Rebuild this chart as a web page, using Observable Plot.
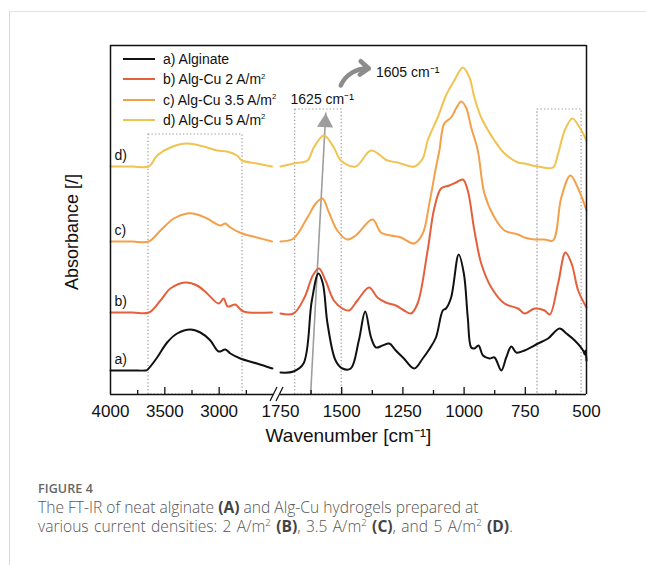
<!DOCTYPE html>
<html><head><meta charset="utf-8">
<script src="https://cdn.jsdelivr.net/npm/d3@7"></script>
<script src="https://cdn.jsdelivr.net/npm/@observablehq/plot@0.6"></script>
<style>
body{margin:0;background:#fff;width:646px;height:565px;overflow:hidden;position:relative;font-family:"Liberation Sans",Arial,sans-serif}
#border{position:absolute;left:9px;top:11px;right:-5px;bottom:-5px;border-top:1.5px solid #e3e3e3;border-left:1.5px solid #d8d8d8}
#chart{position:absolute;left:0;top:0}
#legend{position:absolute;left:123px;top:49px;font-size:14px;color:#111;line-height:20.3px}
.row{height:20.3px;display:flex;align-items:center;white-space:nowrap}
.sw{width:32px;height:2px;margin-right:8px}
.row sup{font-size:0.55em;vertical-align:baseline;position:relative;top:-0.75em;line-height:1}
#caption{position:absolute;left:38px;top:481px;font-family:"Open Sans",sans-serif;color:#555}
#caption .fig{font-size:12.5px;font-weight:600;color:#666;line-height:16px;letter-spacing:0.1px}
#caption .txt{font-size:15.6px;font-weight:300;line-height:18.5px;height:18.5px;white-space:nowrap}
#caption .l1{margin-top:1px}
#caption .l2{word-spacing:1.3px}
#caption b{font-weight:700;color:#444}
#caption sup{font-size:0.62em;vertical-align:baseline;position:relative;top:-0.55em;line-height:1}
</style></head>
<body>
<div id="border"></div>
<div id="chart"></div>
<div id="legend"></div>
<div id="caption">
  <div class="fig">FIGURE 4</div>
  <div class="txt l1">The FT-IR of neat alginate <b>(A)</b> and Alg-Cu hydrogels prepared at</div>
  <div class="txt l2">various current densities: 2 A/m<sup>2</sup> <b>(B)</b>, 3.5 A/m<sup>2</sup> <b>(C)</b>, and 5 A/m<sup>2</sup> <b>(D)</b>.</div>
</div>
<script>
// ---- data (wavenumber cm^-1, offset absorbance) ----
const seriesNames = ["a) Alginate", "b) Alg-Cu 2 A/m²", "c) Alg-Cu 3.5 A/m²", "d) Alg-Cu 5 A/m²"];
const seriesTags = ["a)", "b)", "c)", "d)"];
const seriesColors = ["#111111", "#e4603c", "#f4a04a", "#f0c352"];

const alginateHigh = [[4000,0.24],[3800,0.24],[3680,0.24],[3663,0.245],[3571,0.37],[3479,0.52],[3387,0.61],[3265,0.65],[3173,0.62],[3081,0.54],[3005,0.43],[2943,0.45],[2897,0.41],[2805,0.36],[2652,0.31],[2510,0.26]];
const alginateLow = [[1750,0.22],[1697,0.23],[1656,0.31],[1622,0.94],[1595,1.21],[1577,1.11],[1558,0.71],[1525,0.34],[1497,0.26],[1463,0.26],[1430,0.54],[1404,0.83],[1380,0.57],[1360,0.47],[1333,0.49],[1306,0.51],[1279,0.44],[1246,0.36],[1204,0.26],[1169,0.36],[1143,0.45],[1115,0.57],[1087,0.84],[1074,0.86],[1053,0.97],[1022,1.40],[1001,1.21],[985,0.77],[971,0.47],[958,0.46],[941,0.49],[923,0.39],[896,0.36],[876,0.37],[848,0.24],[828,0.37],[807,0.48],[787,0.42],[753,0.44],[698,0.51],[657,0.56],[610,0.66],[582,0.61],[548,0.54],[514,0.44],[507,0.40],[504,0.44],[500,0.34]];

const cu2High = [[4000,0.82],[3800,0.82],[3648,0.82],[3540,0.94],[3449,1.06],[3311,1.12],[3203,1.09],[3111,1.01],[3005,0.91],[2959,0.96],[2922,0.88],[2851,0.90],[2821,0.87],[2775,0.83],[2514,0.82]];
const cu2Low = [[1750,0.81],[1697,0.81],[1652,0.97],[1618,1.19],[1593,1.26],[1566,1.14],[1532,0.94],[1497,0.86],[1470,0.84],[1436,0.94],[1388,1.07],[1354,0.97],[1320,0.92],[1279,0.89],[1245,0.84],[1217,0.81],[1190,0.91],[1149,1.44],[1122,1.86],[1094,2.06],[1060,2.09],[1033,2.12],[1005,2.15],[985,2.04],[958,1.64],[930,1.31],[889,1.07],[835,0.91],[780,0.86],[753,0.81],[712,0.86],[671,0.84],[650,0.80],[616,1.11],[586,1.42],[561,1.31],[534,1.04],[500,0.87]];

const cu35High = [[4000,1.53],[3800,1.53],[3648,1.53],[3540,1.64],[3418,1.76],[3295,1.81],[3203,1.80],[3111,1.76],[2989,1.69],[2943,1.71],[2897,1.67],[2790,1.61],[2652,1.57],[2514,1.53]];
const cu35Low = [[1750,1.53],[1697,1.56],[1640,1.77],[1606,1.91],[1579,1.96],[1552,1.82],[1518,1.64],[1477,1.55],[1443,1.59],[1374,1.75],[1340,1.62],[1299,1.59],[1258,1.57],[1204,1.51],[1169,1.61],[1142,1.91],[1115,2.27],[1101,2.44],[1081,2.71],[1053,2.77],[1033,2.86],[1012,2.93],[992,2.87],[971,2.67],[944,2.44],[917,2.01],[876,1.77],[835,1.64],[780,1.60],[753,1.57],[712,1.55],[671,1.55],[637,1.54],[603,1.97],[566,2.19],[534,2.06],[500,1.84]];

const cu5High = [[4000,2.28],[3800,2.28],[3648,2.28],[3571,2.39],[3449,2.47],[3295,2.51],[3143,2.48],[3019,2.44],[2928,2.43],[2836,2.39],[2790,2.34],[2652,2.31],[2514,2.28]];
const cu5Low = [[1750,2.28],[1697,2.31],[1640,2.34],[1614,2.47],[1573,2.59],[1532,2.47],[1504,2.34],[1443,2.28],[1380,2.44],[1313,2.34],[1272,2.32],[1204,2.28],[1169,2.36],[1149,2.54],[1108,2.77],[1074,2.99],[1040,3.14],[1005,3.27],[978,3.17],[958,2.97],[930,2.77],[876,2.54],[835,2.41],[780,2.32],[753,2.31],[698,2.28],[637,2.27],[616,2.41],[589,2.64],[558,2.76],[528,2.67],[500,2.54]];

const majorTicks = [3500, 3000, 1500, 1250, 1000, 750];
const minorTicks = [3750, 3250, 2750, 1625, 1375, 1125, 875, 625];
const tickLabels = [4000, 3500, 3000, 1750, 1500, 1250, 1000, 750, 500];
const boxRegions = [[3650, 2785, 2.60], [1690, 1500, 2.85], [700, 520, 2.85]];
const shiftArrow = [[1627, 0, 1565, 2.82]];
const curvedArrow = [[1504, 3.09, 1389, 3.26]];
const peakNotes = [[1709, 2.95, "1625 cm⁻¹"], [1360, 3.22, "1605 cm⁻¹"]];

// ---- build tables ----
const segs = [[alginateHigh, alginateLow], [cu2High, cu2Low], [cu35High, cu35Low], [cu5High, cu5Low]];
const rows = [];
segs.forEach((pair, i) => pair.forEach((seg, j) => seg.forEach(([wn, a]) => rows.push({s: i, seg: j, wn, a}))));
const tagRows = seriesTags.map((t, i) => ({t, wn: 4000, a: segs[i][0][0][1]}));

const Y0 = 0, Y1 = 3.49;
const frameH = 394 - 45;
const font = "Liberation Sans, Arial, Helvetica, sans-serif";

const marks = [
  Plot.rect(boxRegions, {x1: d => d[0], x2: d => d[1], y1: Y0, y2: d => d[2], fill: "none", stroke: "#9a9a9a", strokeWidth: 1.2, strokeDasharray: "1.3,2.2"}),
  Plot.link(shiftArrow, {x1: d => d[0], y1: d => d[1], x2: d => d[2], y2: d => d[3], stroke: "#9d9d9d", strokeWidth: 1.6}),
  Plot.dot(shiftArrow, {x: d => d[2] + (d[0] - d[2]) * 0.035, y: d => d[3] - 0.1, symbol: "triangle", r: 6, fill: "#9d9d9d", stroke: "none", rotate: 3}),
  Plot.arrow(curvedArrow, {x1: d => d[0], y1: d => d[1], x2: d => d[2], y2: d => d[3], bend: 35, stroke: "#8c8c8c", strokeWidth: 4.5, headLength: 9, headAngle: 75}),
  ...segs.map((_, i) => Plot.line(rows.filter(r => r.s === i), {x: "wn", y: "a", z: "seg", stroke: seriesColors[i], strokeWidth: 2, curve: "catmull-rom"})),
  // frame
  Plot.ruleY([Y1], {x1: 4000, x2: 500, stroke: "#111", strokeWidth: 1.5}),
  Plot.ruleY([Y0], {x1: 4000, x2: 2500, stroke: "#111", strokeWidth: 1.5}),
  Plot.ruleY([Y0], {x1: 1750, x2: 500, stroke: "#111", strokeWidth: 1.5}),
  Plot.ruleX([4000, 500], {y1: Y0, y2: Y1, stroke: "#111", strokeWidth: 1.5}),
  Plot.tickX(majorTicks, {x: d => d, insetTop: frameH - 7, stroke: "#111", strokeWidth: 1.3}),
  Plot.tickX(minorTicks, {x: d => d, insetTop: frameH - 4, stroke: "#111", strokeWidth: 1.3}),
  Plot.axisX({ticks: tickLabels, tickSize: 0, tickPadding: 10, tickFormat: d3.format("d"), fontSize: 17, label: null, fill: "#111"}),
  Plot.text(["Wavenumber [cm⁻¹]"], {frameAnchor: "bottom", dy: 47, fontSize: 19, fill: "#111"}),
  Plot.text(["Absorbance [/]"], {frameAnchor: "left", textAnchor: "middle", dx: -38, dy: 12, rotate: -90, fontSize: 18, fill: "#111"}),
  Plot.text(tagRows, {x: "wn", y: "a", text: "t", textAnchor: "start", dx: 4, dy: -11, fontSize: 14, fill: "#111"}),
  Plot.text(peakNotes, {x: d => d[0], y: d => d[1], text: d => d[2], textAnchor: "start", fontSize: 14, fill: "#111"})
];

const chart = Plot.plot({
  width: 646, height: 460,
  marginLeft: 110, marginRight: 60, marginTop: 45, marginBottom: 66,
  x: {type: "linear", domain: [4000, 2500, 1750, 500], range: [110, 273, 280, 586], axis: null},
  y: {domain: [Y0, Y1], axis: null},
  style: {fontFamily: font, background: "transparent", overflow: "visible"},
  marks
});
document.getElementById("chart").appendChild(chart);

// axis-break slashes drawn at the gap between the two x segments
const xs = chart.scale("x");
const ys = chart.scale("y");
const svg = d3.select(chart);
const gx = (xs.apply(2500) + xs.apply(1750)) / 2;
const gy = ys.apply(Y0);
[-3, 3].forEach(o => svg.append("line").attr("x1", gx + o - 3.5).attr("y1", gy + 7).attr("x2", gx + o + 3.5).attr("y2", gy - 7).attr("stroke", "#111").attr("stroke-width", 1.2));

// legend
const leg = document.getElementById("legend");
seriesNames.forEach((n, i) => {
  const row = document.createElement("div");
  row.className = "row";
  const sw = document.createElement("span");
  sw.className = "sw"; sw.style.background = seriesColors[i];
  const tx = document.createElement("span");
  tx.innerHTML = n.replace("²", "<sup>2</sup>");
  row.appendChild(sw); row.appendChild(tx);
  leg.appendChild(row);
});
</script>
</body></html>
